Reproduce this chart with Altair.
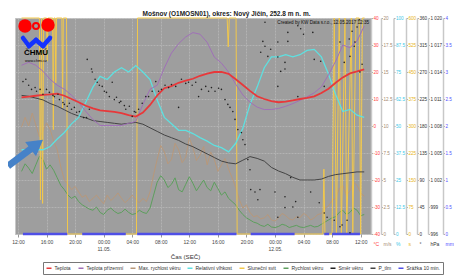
import altair as alt
import pandas as pd

BASE = pd.Timestamp("2017-05-10 12:00:00")
W, H = 356, 216
FONT = "Liberation Sans"


def stamp(hours):
    return [(BASE + pd.Timedelta(minutes=round(h * 60))).strftime("%Y-%m-%dT%H:%M:%S") for h in hours]


names = ["Teplota", "Teplota přízemní", "Max. rychlost větru", "Relativní vlhkost",
         "Sluneční svit", "Rychlost větru", "Směr větru", "P_tlm", "Srážka 10 min."]
colors = ["#e8383a", "#a070b8", "#b8987a", "#5ee0e0", "#f2c84b",
          "#5d9e5d", "#222222", "#444444", "#4f4fe6"]

# hourly series, hours after 10.05. 12:00
hourly_hours = [0.5 + i for i in range(49)]
temperature = [10.6, 10.9, 11.2, 11.5, 11.7, 12.0, 11.2, 10.0, 8.8, 7.5,
               6.5, 5.8, 5.5, 5.2, 4.8, 4.0, 3.5, 5.0, 7.8, 11.3,
               14.0, 14.8, 16.0, 16.8, 17.5, 18.6, 19.4, 20.0, 20.0, 19.3,
               17.3, 15.2, 13.0, 11.0, 10.0, 9.2, 8.8, 9.0, 9.5, 10.0,
               10.4, 11.0, 12.2, 13.8, 16.0, 18.0, 19.5, 20.2, 21.0]
ground_temp = [22.5, 23.6, 22.5, 20.3, 17.3, 15.1, 13.6, 11.4, 8.8, 5.4,
               2.4, 0.2, 0.2, 0.2, 0.2, 1.0, 1.7, 8.0, 13.6, 15.1,
               21.5, 27.0, 30.5, 33.0, 34.6, 34.0, 31.0, 25.5, 23.3, 20.0,
               15.5, 11.5, 8.8, 7.0, 6.1, 6.1, 6.5, 7.3, 8.3, 9.5,
               10.8, 12.3, 14.5, 19.0, 24.0, 30.0, 29.0, 31.5, 37.0]
humidity = [39, 39, 39, 39, 40.5, 44, 47, 51, 54, 61,
            68, 73, 71.5, 75, 77, 75, 78, 75, 71.5, 62,
            54, 51, 48, 48, 46.5, 44.6, 43, 41, 40, 38,
            42, 49, 60, 68, 77, 82, 82, 83, 82, 83,
            85, 85.5, 82, 74, 64.6, 56.7, 57.7, 55, 54]
pressure = [1011.4, 1011.3, 1011.1, 1010.9, 1010.5, 1010.2, 1009.8, 1009.4, 1009.1, 1008.9,
            1008.6, 1008.5, 1008.4, 1008.3, 1008.2, 1008.3, 1008.4, 1008.2, 1007.8, 1007.4,
            1007.0, 1006.7, 1006.4, 1006.0, 1005.7, 1005.3, 1004.9, 1004.5, 1004.1, 1003.9,
            1003.8, 1004.2, 1004.6, 1004.4, 1004.1, 1003.4, 1003.0, 1002.7, 1002.3, 1002.0,
            1002.0, 1002.0, 1002.1, 1002.4, 1002.6, 1002.7, 1002.8, 1002.9, 1002.9]

# half-hourly wind
half_hours = [0.5 + 0.5 * i for i in range(97)]
gust = [9.9, 10.8, 10.0, 11.2, 10.1, 9.0, 9.5, 10.3, 9.7, 8.6,
        7.8, 6.2, 5.0, 4.6, 4.1, 4.4, 3.9, 3.4, 3.6, 3.0,
        3.3, 3.6, 3.2, 2.8, 3.6, 3.1, 3.4, 3.8, 3.3, 2.9,
        3.2, 3.6, 3.2, 2.9, 3.3, 3.0, 3.9, 5.5, 6.9, 8.2,
        7.6, 6.5, 6.9, 8.4, 7.8, 6.6, 7.1, 8.9, 8.0, 6.8,
        7.3, 8.1, 6.4, 7.6, 6.9, 5.8, 6.4, 7.0, 6.0, 5.2,
        4.3, 3.2, 2.4, 2.7, 2.0, 1.6, 1.7, 1.4, 1.5, 1.8,
        1.3, 1.2, 1.5, 1.9, 1.7, 1.4, 1.3, 1.6, 1.5, 1.9,
        1.7, 1.3, 1.5, 1.8, 1.9, 2.4, 2.6, 3.1, 3.3, 4.2,
        4.5, 3.6, 4.0, 4.8, 4.5, 3.8, 3.5]
wind = [5.8, 6.5, 6.1, 5.6, 6.4, 7.2, 6.9, 6.0, 6.4, 5.9,
        5.2, 4.5, 4.1, 3.6, 3.3, 3.5, 3.0, 2.7, 2.5, 2.3,
        2.2, 2.5, 2.0, 1.8, 2.2, 2.4, 2.1, 1.9, 2.0, 2.3,
        2.0, 1.8, 1.9, 2.2, 2.0, 1.9, 2.4, 3.6, 4.8, 5.4,
        5.0, 4.3, 4.6, 5.2, 4.1, 3.9, 4.6, 5.3, 4.7, 4.0,
        4.5, 5.0, 4.3, 4.0, 4.8, 4.2, 3.6, 3.9, 3.3, 3.0,
        2.7, 2.2, 1.8, 1.5, 1.3, 1.1, 1.0, 0.8, 0.7, 0.9,
        0.65, 0.6, 0.7, 0.9, 0.8, 0.6, 0.7, 0.8, 0.65, 0.6,
        0.7, 0.8, 0.65, 0.7, 0.9, 1.1, 1.3, 1.5, 1.6, 2.0,
        2.2, 1.8, 2.0, 2.4, 2.2, 1.7, 1.8]

sun_hours = [0.5, 3.0, 3.15, 3.3, 3.45, 3.6, 4.0, 4.1, 4.2, 4.85, 4.95, 5.05, 5.2, 5.3, 5.4,
             6.15, 6.25, 6.35, 6.8, 6.95, 16.6, 16.75, 29.3, 29.45, 29.6, 30.55, 30.7,
             42.7, 42.85, 43.0, 44.0, 44.3, 44.6, 45.0, 45.3, 45.8, 46.05, 46.7, 46.9,
             47.35, 47.8, 48.0, 48.25, 48.55]
sun_values = [600, 600, 95, 600, 85, 600, 600, 480, 600, 600, 290, 600, 600, 420, 600,
              600, 350, 600, 600, 0, 0, 600, 600, 520, 600, 600, 0,
              0, 180, 0, 0, 600, 0, 600, 0, 600, 0, 600, 0,
              600, 600, 0, 600, 600]

dir_hours = [0.7, 1.1, 1.5, 1.9, 2.4, 2.6, 3.1, 3.5, 4.0, 4.4, 4.9, 5.1, 5.6, 5.8, 6.3, 6.5, 6.9, 7.2,
             7.5, 7.9, 8.2, 8.6, 9.2, 9.6, 9.7, 10.0, 10.3, 10.4, 10.8, 11.1, 11.4, 11.8, 12.1, 12.4,
             12.8, 13.2, 13.5, 13.8, 14.2, 14.4, 14.9, 15.1, 15.6, 16.0, 16.3, 16.5, 16.9, 17.4, 17.9,
             18.3, 18.8, 19.3, 19.7, 20.1, 20.6, 21.1, 21.5, 22.1, 22.5, 22.9, 23.5, 23.9, 24.4, 24.9,
             25.3, 25.7, 26.3, 26.7, 27.1, 27.6, 28.1, 28.5, 29.0, 29.4, 29.7, 30.1, 30.4, 30.8, 31.3,
             31.5, 31.8, 32.2, 32.5, 32.6, 33.2, 33.6, 33.9,
             34.0, 34.3, 34.6, 34.6, 35.0, 35.4, 36.4, 36.4, 36.8, 37.4, 37.4, 37.8, 37.8, 39.2, 39.6,
             40.0, 41.3, 41.5, 42.4, 42.9, 36.4, 39.2,
             36.0, 36.4, 37.4, 37.4, 38.2, 38.5, 38.9, 39.2, 41.0, 42.2, 42.9, 43.3, 44.3, 45.1, 45.4,
             46.1, 46.5,
             45.1, 45.7, 46.4, 46.5, 46.8, 47.1, 47.2, 47.5, 47.8, 47.9, 48.2]
dir_values = [254, 258, 248, 241, 244, 238, 241, 233, 241, 236, 231, 229, 233, 224, 219, 216, 213, 218,
              208, 211, 203, 204, 194, 194, 291, 208, 275, 270, 258, 253, 248, 246, 238, 236,
              229, 253, 224, 228, 219, 221, 214, 208, 213, 196, 204, 203, 208, 218, 229,
              229, 238, 254, 238, 241, 248, 244, 249, 246, 211, 258, 251, 253, 248, 253,
              229, 241, 246, 238, 244, 238, 243, 241, 224, 216, 211, 204, 191, 174, 169,
              157, 149, 124, 107, 74, 70, 57, 74,
              303, 321, 353, 313, 296, 308, 320, 295, 271, 286, 275, 336, 321, 347, 342,
              333, 336, 291, 288, 246, 246, 229,
              70, 28, 62, 44, 94, 45, 54, 28, 70, 52, 35, 28, 23, 12, 15,
              23, 2,
              320, 286, 325, 296, 338, 313, 320, 345, 357, 270, 283]

rain_start = [0.7, 9.0, 16.7, 32.6, 42.9, 44.0]
rain_end = [6.9, 15.1, 30.6, 38.75, 43.6, 47.9]
rain_mm = [0, 0, 0, 0, 0, 0]

tick_hours = [0, 4, 8, 12, 16, 20, 24, 28, 32, 36, 40, 44, 48]

ms_vals = [0, 2.5, 5, 7.5, 10, 12.5, 15, 17.5, 20]
rh_vals = [0, 12.5, 25, 37.5, 50, 62.5, 75, 87.5, 100]
sun_vals = [0, 75, 150, 225, 300, 375, 450, 525, 600]
dir_vals = [0, 45, 90, 135, 180, 225, 270, 315, 360]
hpa_vals = [996, 999, 1002, 1005, 1008, 1011, 1014, 1017, 1020]
mm_vals = [0, 0.5, 1, 1.5, 2, 2.5, 3, 3.5, 4]
temp_vals = [-40, -30, -20, -10, 0, 10, 20, 30, 40]


def frame(hours, values, series):
    n = min(len(hours), len(values))
    return pd.DataFrame({"t": stamp(hours[:n]), "v": values[:n], "series": series})


def dt(hours):
    t = BASE + pd.Timedelta(minutes=round(hours * 60))
    return alt.DateTime(year=t.year, month=t.month, date=t.day, hours=t.hour, minutes=t.minute)


color_enc = alt.Color(
    "series:N",
    scale=alt.Scale(domain=names, range=colors),
    legend=alt.Legend(
        title=None, orient="none", legendX=28, legendY=244, direction="horizontal",
        columns=9, symbolType="stroke", symbolSize=25, symbolStrokeWidth=1.5,
        labelFontSize=5, labelFont=FONT, labelColor="#333", labelOffset=2,
        columnPadding=4, padding=2.5, strokeColor="#777", fillColor="#ffffff",
    ),
)

x_axis = alt.Axis(
    values=[dt(h) for h in tick_hours],
    labelExpr="hours(datum.value) == 0 ? [timeFormat(datum.value, '%H:%M'), timeFormat(datum.value, '%d.%m.')] : timeFormat(datum.value, '%H:%M')",
    labelFontSize=5, labelFont=FONT, labelColor="#444", labelLineHeight=7, labelPadding=2,
    labelFlush=False, labelOverlap=False,
    tickSize=3, tickColor="#999", domain=False,
    grid=True, gridColor="#bcbcbc", gridWidth=0.7, gridDash=[2, 1],
    title="Čas (SEČ)", titleFont=FONT, titleFontSize=6.2, titleFontWeight="normal",
    titleColor="#333", titleX=170, titleY=22, titleBaseline="middle",
)
x_scale = alt.Scale(domain=[dt(-25 / 60), dt(49 + 27 / 60)])


def x_enc(field="t"):
    return alt.X(f"{field}:T", scale=x_scale, axis=x_axis, title="Čas (SEČ)")


def y_axis(title, offset, values, color, grid=False, label_expr="'' + datum.value"):
    kw = dict(
        orient="right", offset=offset, values=values, labelColor=color, labelFontSize=4.6,
        labelFont=FONT, labelPadding=0.5, labelAlign="left", labelBaseline="middle",
        labelOverlap=False, labelFlush=False, labelExpr=label_expr,
        tickSize=1.5, tickColor="#aaaaaa", domainColor="#c8c8c8", domainWidth=1.5,
        title=title, titleAngle=0, titleX=2, titleY=H + 9, titleAlign="left",
        titleBaseline="middle", titleColor=color, titleFont=FONT, titleFontSize=5,
        titleFontWeight="normal", grid=grid,
    )
    if grid:
        kw.update(gridColor="#bcbcbc", gridWidth=0.7, gridDash=[2, 1])
    return alt.Axis(**kw)


def line_layer(df, domain, axis, width):
    return alt.Chart(df).mark_line(strokeWidth=width).encode(
        x=x_enc(),
        y=alt.Y("v:Q", title=None, scale=alt.Scale(domain=domain, nice=False, zero=False), axis=axis),
        color=color_enc,
    )


gust_layer = line_layer(frame(half_hours, gust, names[2]), [0, 20],
                        y_axis("m/s", 10, ms_vals, "#a58a70"), 1.0)
wind_layer = line_layer(frame(half_hours, wind, names[5]), [0, 20], None, 1.0)
sun_layer = line_layer(frame(sun_hours, sun_values, names[4]), [0, 600],
                       y_axis("s", 35, sun_vals, "#e8b420"), 1.0)

rain_df = pd.DataFrame({"start": stamp(rain_start), "end": stamp(rain_end),
                        "v": rain_mm, "series": names[8]})
rain_layer = alt.Chart(rain_df).mark_rule(strokeWidth=2.5).encode(
    x=x_enc("start"), x2="end:T",
    y=alt.Y("v:Q", title=None, scale=alt.Scale(domain=[0, 4], nice=False),
            axis=y_axis("mm", 72, mm_vals, "#5050ff")),
    color=color_enc,
)
press_layer = line_layer(
    frame(hourly_hours, pressure, names[7]), [996, 1020],
    y_axis("hPa", 57, hpa_vals, "#333333",
           label_expr="datum.value >= 1000 ? '1 ' + format(datum.value - 1000, '03d') : format(datum.value, 'd')"),
    1.0)
rh_layer = line_layer(frame(hourly_hours, humidity, names[3]), [0, 100],
                      y_axis("%", 22.5, rh_vals, "#3cc8e8"), 1.3)
ground_layer = line_layer(frame(hourly_hours, ground_temp, names[1]), [-40, 40], None, 1.0)
temp_layer = line_layer(frame(hourly_hours, temperature, names[0]), [-40, 40],
                        y_axis("°C", 0, temp_vals, "#ff4040", grid=True), 1.8)

n_dir = min(len(dir_hours), len(dir_values))
dir_df = frame(dir_hours[:n_dir], dir_values[:n_dir], names[6])
dir_layer = alt.Chart(dir_df).mark_circle(size=2.5, opacity=1).encode(
    x=x_enc(),
    y=alt.Y("v:Q", title=None, scale=alt.Scale(domain=[0, 360], nice=False),
            axis=y_axis("°", 46, dir_vals, "#333333")),
    color=color_enc,
)

one = pd.DataFrame({"k": [0]})
created = alt.Chart(one).mark_text(
    text="Created by KW Data s.r.o., 12.05.2017 12:35", align="right", baseline="middle",
    fontSize=4.6, font=FONT, color="#111"
).encode(x=alt.value(W - 2), y=alt.value(5))

logo = [
    alt.Chart(one).mark_point(filled=True, shape="circle", size=180, color="#ff0000", opacity=1)
    .encode(x=alt.value(10), y=alt.value(8)),
    alt.Chart(one).mark_point(filled=False, shape="circle", size=36, color="#ff0000", strokeWidth=2, opacity=1)
    .encode(x=alt.value(21), y=alt.value(8)),
    alt.Chart(one).mark_point(filled=True, shape="circle", size=180, color="#ff0000", opacity=1)
    .encode(x=alt.value(33), y=alt.value(7)),
]
wave = [(8, 20, 14, 28), (14, 28, 21, 22), (21, 22, 28, 28), (28, 28, 35, 20)]
for x1, y1, x2, y2 in wave:
    logo.append(alt.Chart(one).mark_rule(strokeWidth=4.5, color="#1432ff", strokeCap="round")
                .encode(x=alt.value(x1), y=alt.value(y1), x2=alt.value(x2), y2=alt.value(y2)))
logo.append(alt.Chart(one).mark_text(text="ČHMÚ", fontSize=8, fontWeight="bold", font=FONT, color="#000")
            .encode(x=alt.value(21), y=alt.value(35)))
logo.append(alt.Chart(one).mark_text(text="www.chmi.cz", fontSize=3.8, font=FONT, color="#000")
            .encode(x=alt.value(21), y=alt.value(43)))

arrow = [
    alt.Chart(one).mark_rule(strokeWidth=7, color="#4682c8", strokeCap="butt")
    .encode(x=alt.value(-7), y=alt.value(148), x2=alt.value(17), y2=alt.value(130)),
    alt.Chart(one).mark_point(shape="triangle-right", filled=True, size=324, angle=323,
                              color="#4682c8", opacity=1)
    .encode(x=alt.value(21.8), y=alt.value(126.4)),
]

chart = alt.layer(
    gust_layer, wind_layer, sun_layer, rain_layer, press_layer, rh_layer,
    ground_layer, temp_layer, dir_layer, created, *logo, *arrow
).resolve_scale(y="independent").properties(
    width=W, height=H,
    autosize=alt.AutoSizeParams(type="none"),
    padding={"left": 7, "top": 10, "right": 83, "bottom": 41},
    title=alt.Title("Mošnov (O1MOSN01), okres: Nový Jičín, 252.8 m n. m.",
                    fontSize=6.5, fontWeight="bold", font=FONT, color="#222",
                    anchor="start", dx=138, dy=3, offset=1),
).configure_view(fill="#9e9e9e", stroke="#c8c8c8", strokeWidth=1)

chart.save("out.html", embed_options={"renderer": "svg", "actions": False})
